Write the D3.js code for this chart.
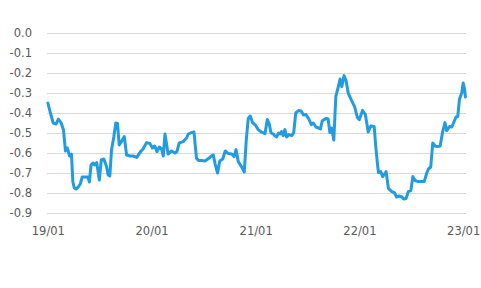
<!DOCTYPE html>
<html>
<head>
<meta charset="utf-8">
<script src="https://cdn.jsdelivr.net/npm/d3@7"></script>
<style>
  body { margin: 0; background: #fff; }
  text { font-family: "DejaVu Sans", Verdana, sans-serif; fill: #595959; }
</style>
</head>
<body>
<script>
"use strict"

// series values
const dates = [
  "2019-01-01", "2019-01-10", "2019-01-20", "2019-01-30", "2019-02-07", "2019-02-17", "2019-02-25", "2019-03-04",
  "2019-03-11", "2019-03-18", "2019-03-25", "2019-03-30", "2019-04-04", "2019-04-10", "2019-04-18", "2019-04-25",
  "2019-05-02", "2019-05-17", "2019-05-22", "2019-05-27", "2019-06-02", "2019-06-10", "2019-06-15", "2019-06-22",
  "2019-07-01", "2019-07-08", "2019-07-17", "2019-07-27", "2019-08-01", "2019-08-07", "2019-08-13", "2019-08-21",
  "2019-08-28", "2019-09-03", "2019-09-09", "2019-09-17", "2019-09-27", "2019-10-05", "2019-10-17", "2019-10-28",
  "2019-11-10", "2019-11-23", "2019-12-02", "2019-12-14", "2019-12-26",
  "2020-01-04", "2020-01-12", "2020-01-20", "2020-01-28", "2020-02-05", "2020-02-11", "2020-02-17", "2020-02-28",
  "2020-03-11", "2020-03-23", "2020-03-30", "2020-04-07", "2020-04-21", "2020-05-03", "2020-05-09", "2020-05-20",
  "2020-05-29", "2020-06-07", "2020-06-15", "2020-06-26", "2020-07-07", "2020-07-19", "2020-07-31", "2020-08-05",
  "2020-08-11", "2020-08-20", "2020-08-28", "2020-09-07", "2020-09-16", "2020-09-27", "2020-10-09", "2020-10-17",
  "2020-10-24", "2020-11-01", "2020-11-12", "2020-11-22", "2020-11-29", "2020-12-06", "2020-12-13", "2020-12-21",
  "2020-12-31",
  "2021-01-10", "2021-01-22", "2021-02-03", "2021-02-11", "2021-02-18", "2021-02-24", "2021-03-04", "2021-03-10",
  "2021-03-16", "2021-03-22", "2021-03-28", "2021-04-02", "2021-04-08", "2021-04-14", "2021-04-20", "2021-04-28",
  "2021-05-08", "2021-05-15", "2021-05-22", "2021-06-01", "2021-06-10", "2021-06-18", "2021-06-27", "2021-07-07",
  "2021-07-16", "2021-07-23", "2021-08-01", "2021-08-10", "2021-08-17", "2021-08-23", "2021-08-30", "2021-09-06",
  "2021-09-13", "2021-09-19", "2021-09-25", "2021-10-03", "2021-10-10", "2021-10-18", "2021-10-25", "2021-10-31",
  "2021-11-08", "2021-11-15", "2021-11-23", "2021-12-05", "2021-12-15", "2021-12-25",
  "2022-01-01", "2022-01-12", "2022-01-22", "2022-02-01", "2022-02-10", "2022-02-22", "2022-02-28", "2022-03-06",
  "2022-03-09", "2022-03-17", "2022-03-24", "2022-04-05", "2022-04-13", "2022-04-25", "2022-05-04", "2022-05-12",
  "2022-05-21", "2022-05-30", "2022-06-07", "2022-06-14", "2022-06-22", "2022-07-01", "2022-07-08", "2022-07-16",
  "2022-07-27", "2022-08-08", "2022-08-17", "2022-08-26", "2022-09-01", "2022-09-09", "2022-09-16", "2022-09-24",
  "2022-10-02", "2022-10-12", "2022-10-21", "2022-10-29", "2022-11-04", "2022-11-14", "2022-11-22", "2022-11-28",
  "2022-12-07", "2022-12-13", "2022-12-19", "2022-12-27",
  "2023-01-01", "2023-01-06", "2023-01-09",
]

const values = [
  -0.35, -0.40, -0.45, -0.455, -0.43, -0.45, -0.485, -0.59,
  -0.575, -0.615, -0.605, -0.745, -0.775, -0.78, -0.77, -0.755,
  -0.72, -0.72, -0.72, -0.745, -0.66, -0.65, -0.66, -0.648,
  -0.735, -0.635, -0.63, -0.67, -0.71, -0.715, -0.585, -0.52,
  -0.45, -0.452, -0.56, -0.543, -0.518, -0.61, -0.615, -0.615,
  -0.622, -0.593, -0.58, -0.548, -0.552,
  -0.575, -0.565, -0.593, -0.57, -0.58, -0.615, -0.505, -0.605,
  -0.59, -0.60, -0.593, -0.55, -0.543, -0.525, -0.505, -0.498,
  -0.495, -0.627, -0.638, -0.638, -0.64, -0.628, -0.613, -0.61,
  -0.652, -0.70, -0.64, -0.63, -0.59, -0.603, -0.605, -0.618,
  -0.583, -0.643, -0.668, -0.695, -0.535, -0.427, -0.415, -0.448,
  -0.46,
  -0.483, -0.496, -0.503, -0.433, -0.455, -0.50, -0.505, -0.515,
  -0.52, -0.50, -0.505, -0.493, -0.513, -0.483, -0.52, -0.508,
  -0.513, -0.498, -0.40, -0.388, -0.39, -0.41, -0.408, -0.43,
  -0.458, -0.45, -0.47, -0.475, -0.48, -0.44, -0.433, -0.427,
  -0.43, -0.498, -0.475, -0.535, -0.318, -0.273, -0.23, -0.268,
  -0.213, -0.238, -0.302, -0.339, -0.368, -0.423,
  -0.433, -0.387, -0.408, -0.495, -0.465, -0.468, -0.575, -0.66,
  -0.698, -0.693, -0.718, -0.693, -0.777, -0.793, -0.798, -0.82,
  -0.815, -0.82, -0.83, -0.828, -0.793, -0.788, -0.718, -0.738,
  -0.743, -0.743, -0.743, -0.70, -0.68, -0.67, -0.55, -0.565,
  -0.568, -0.565, -0.493, -0.448, -0.488, -0.468, -0.47, -0.45,
  -0.42, -0.418, -0.33, -0.30,
  -0.25, -0.28, -0.32,
]

// tick labels
const yTicks = [0, -0.1, -0.2, -0.3, -0.4, -0.5, -0.6, -0.7, -0.8, -0.9]
const xTicks = ["2019-01-01", "2020-01-01", "2021-01-01", "2022-01-01", "2023-01-01"]
const xDomain = ["2018-12-29", "2023-01-11"]

const parse = d3.timeParse("%Y-%m-%d")
const series = dates.map((d, i) => ({ date : parse(d), value : values[i] }))

// SVG area dimensions
const area   = [481, 288]
const margin = { top : 33, right : 15, bottom : 75, left : 47 }
const width  = area[0] - margin.left - margin.right
const height = area[1] - margin.top  - margin.bottom

const x = d3.scaleTime().domain(xDomain.map(parse)).range([0, width])
const y = d3.scaleLinear().domain([-0.9, 0]).range([height, 0])

const translate = (x, y) => `translate(${x} ${y})`

const svg = d3.select("body").append("svg")
  .attr("width", area[0])
  .attr("height", area[1])
  .append("g")
  .attr("transform", translate(margin.left, margin.top))

// y axis with gridlines
const yAxis = svg.append("g")
  .call(d3.axisLeft(y)
    .tickValues(yTicks)
    .tickSize(-width)
    .tickPadding(15)
    .tickFormat(v => v.toFixed(1)))
yAxis.select(".domain").remove()
yAxis.selectAll(".tick line").attr("stroke", "#d9d9d9")
yAxis.selectAll(".tick text")
  .attr("font-size", "11.5px")
  .attr("font-family", null)
  .attr("fill", null)

// x axis, labels only
const xAxis = svg.append("g")
  .attr("transform", translate(0, height))
  .call(d3.axisBottom(x)
    .tickValues(xTicks.map(parse))
    .tickSize(0)
    .tickPadding(14)
    .tickFormat(d3.timeFormat("%y/%m")))
xAxis.select(".domain").remove()
xAxis.selectAll(".tick text")
  .attr("font-size", "11.5px")
  .attr("font-family", null)
  .attr("fill", null)

// the series line
svg.append("path")
  .datum(series)
  .attr("fill", "none")
  .attr("stroke", "#219be2")
  .attr("stroke-width", 3)
  .attr("stroke-linejoin", "round")
  .attr("stroke-linecap", "round")
  .attr("d", d3.line().x(d => x(d.date)).y(d => y(d.value)))
</script>
</body>
</html>
